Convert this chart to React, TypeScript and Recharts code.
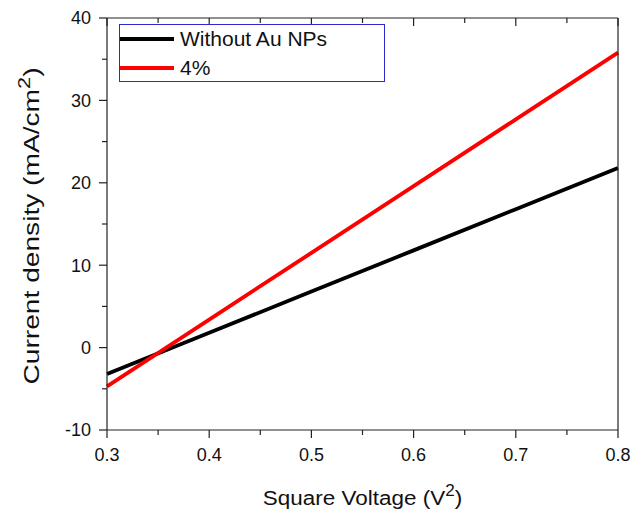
import { LineChart, Line, XAxis, YAxis, Legend } from "recharts";

// Square voltage (V^2) and current density
const voltageSq = [0.3, 0.4, 0.5, 0.6, 0.7, 0.8];
const withoutAu = [-3.2, 1.8, 6.8, 11.8, 16.8, 21.8];
const au4 = [-4.7, 3.4, 11.5, 19.6, 27.7, 35.8];

const xTicks = [0.3, 0.35, 0.4, 0.45, 0.5, 0.55, 0.6, 0.65, 0.7, 0.75, 0.8];
const yTicks = [-10, -5, 0, 5, 10, 15, 20, 25, 30, 35, 40];

const seriesOrder = ["a", "b"];
const data = voltageSq.map((v, i) => ({ v, a: withoutAu[i], b: au4[i] }));

const FONT = "'Liberation Sans', Arial, sans-serif";
const AXIS = "#222";
const MAJOR = 8;
const MINOR = 5;

const isMajorX = (v) => Math.abs(v * 10 - Math.round(v * 10)) < 1e-6;
const isMajorY = (v) => v % 10 === 0;

const BottomTick = ({ x, y, payload }) => {
  const major = isMajorX(payload.value);
  return (
    <g>
      <line x1={x} x2={x} y1={y} y2={y + (major ? MAJOR : MINOR)} stroke={AXIS} strokeWidth={1.2} />
      {major && (
        <text x={x} y={y + 31} textAnchor="middle" fontSize={18} fontFamily={FONT} fill="#111">
          {payload.value.toFixed(1)}
        </text>
      )}
    </g>
  );
};

const TopTick = ({ x, y, payload }) => (
  <line x1={x} x2={x} y1={y} y2={y + (isMajorX(payload.value) ? MAJOR : MINOR)} stroke={AXIS} strokeWidth={1.2} />
);

const LeftTick = ({ x, y, payload }) => {
  const major = isMajorY(payload.value);
  return (
    <g>
      <line x1={x - (major ? MAJOR : MINOR)} x2={x} y1={y} y2={y} stroke={AXIS} strokeWidth={1.2} />
      {major && (
        <text x={x - 16} y={y} dy="0.36em" textAnchor="end" fontSize={18} fontFamily={FONT} fill="#111">
          {payload.value}
        </text>
      )}
    </g>
  );
};

const RightTick = ({ x, y, payload }) => (
  <line x1={x - (isMajorY(payload.value) ? MAJOR : MINOR)} x2={x} y1={y} y2={y} stroke={AXIS} strokeWidth={1.2} />
);

// the source image is a bit stretched, so the titles get a slight scale
const XTitle = ({ viewBox }) => {
  const cx = viewBox.x + viewBox.width / 2;
  const cy = viewBox.y + 75;
  return (
    <g transform={`translate(${cx} ${cy}) scale(1.07 1)`}>
      <text x={0} y={0} textAnchor="middle" fontSize={21} fontFamily={FONT} fill="#111">
        Square Voltage (V<tspan dy={-9} fontSize={16}>2</tspan><tspan dy={9}>)</tspan>
      </text>
    </g>
  );
};

const YTitle = ({ viewBox }) => {
  const cx = viewBox.x + viewBox.width - 68;
  const cy = viewBox.y + viewBox.height / 2 + 2;
  return (
    <g transform={`translate(${cx} ${cy}) rotate(-90) scale(1.28 1)`}>
      <text x={0} y={0} textAnchor="middle" fontSize={22} fontFamily={FONT} fill="#111">
        Current density (mA/cm<tspan dy={-9} fontSize={17}>2</tspan><tspan dy={9}>)</tspan>
      </text>
    </g>
  );
};

const renderLegend = ({ payload }) => {
  const items = [...payload].sort((p, q) => seriesOrder.indexOf(p.dataKey) - seriesOrder.indexOf(q.dataKey));
  return (
    <div style={{ border: "1.5px solid #2a2ad0", width: 266, height: 58, boxSizing: "border-box", background: "#fff" }}>
      {items.map((p, i) => (
        <div key={i} style={{ display: "flex", alignItems: "center", height: 28, marginTop: i === 0 ? 0 : 1 }}>
          <div style={{ width: 54, height: 4, background: p.color }} />
          <span style={{ fontFamily: FONT, fontSize: 21, color: "#111", marginLeft: 6 }}>{p.value}</span>
        </div>
      ))}
    </div>
  );
};

export default function App() {
  return (
    <div>
      <style>{`body{margin:0;background:#fff}`}</style>
      <LineChart width={633} height={514} data={data} margin={{ top: 17, right: 14, bottom: 83, left: 106 }}>
        <XAxis
          dataKey="v"
          type="number"
          domain={[0.3, 0.8]}
          ticks={xTicks}
          height={1}
          tickSize={0}
          tickMargin={0}
          tick={BottomTick}
          interval={0}
          axisLine={{ stroke: AXIS, strokeWidth: 1.2 }}
          label={XTitle}
        />
        <XAxis
          xAxisId="top"
          orientation="top"
          dataKey="v"
          type="number"
          domain={[0.3, 0.8]}
          ticks={xTicks}
          height={1}
          tickSize={0}
          tickMargin={0}
          tick={TopTick}
          interval={0}
          axisLine={{ stroke: AXIS, strokeWidth: 1.2 }}
        />
        <YAxis
          type="number"
          domain={[-10, 40]}
          ticks={yTicks}
          width={1}
          tickSize={0}
          tickMargin={0}
          tick={LeftTick}
          interval={0}
          axisLine={{ stroke: AXIS, strokeWidth: 1.2 }}
          label={YTitle}
        />
        <YAxis
          yAxisId="right"
          orientation="right"
          type="number"
          domain={[-10, 40]}
          ticks={yTicks}
          width={1}
          tickSize={0}
          tickMargin={0}
          tick={RightTick}
          interval={0}
          axisLine={{ stroke: AXIS, strokeWidth: 1.2 }}
        />
        <Legend
          layout="vertical"
          align="center"
          verticalAlign="middle"
          content={renderLegend}
          wrapperStyle={{ left: 119, top: 24, width: 266, height: 58 }}
        />
        <Line dataKey="a" name="Without Au NPs" stroke="#000" strokeWidth={3.8} dot={false} isAnimationActive={false} />
        <Line dataKey="b" name="4%" stroke="#f00" strokeWidth={3.8} dot={false} isAnimationActive={false} />
      </LineChart>
    </div>
  );
}
